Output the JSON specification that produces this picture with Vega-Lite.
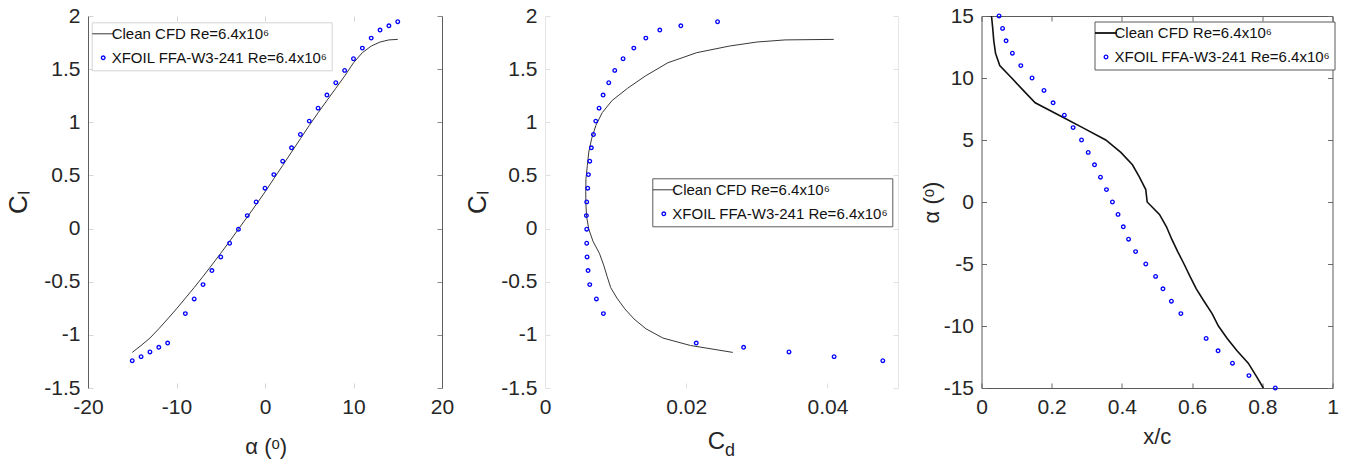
{
  "$schema": "https://vega.github.io/schema/vega-lite/v6.json",
  "background": "white",
  "padding": {"left": 5, "top": 5, "right": 0, "bottom": 0},
  "datasets": {
    "cfd": [
      {"alpha": -15, "cl": -1.165, "cd": 0.0266, "xc": 0.803},
      {"alpha": -14, "cl": -1.100, "cd": 0.0206, "xc": 0.782},
      {"alpha": -13, "cl": -1.030, "cd": 0.0167, "xc": 0.760},
      {"alpha": -12, "cl": -0.943, "cd": 0.0143, "xc": 0.728},
      {"alpha": -11, "cl": -0.850, "cd": 0.0126, "xc": 0.700},
      {"alpha": -10, "cl": -0.755, "cd": 0.0113, "xc": 0.675},
      {"alpha": -9, "cl": -0.655, "cd": 0.0102, "xc": 0.657},
      {"alpha": -8, "cl": -0.555, "cd": 0.0093, "xc": 0.634},
      {"alpha": -7, "cl": -0.450, "cd": 0.0088, "xc": 0.612},
      {"alpha": -6, "cl": -0.342, "cd": 0.0083, "xc": 0.594},
      {"alpha": -5, "cl": -0.232, "cd": 0.0077, "xc": 0.577},
      {"alpha": -4, "cl": -0.120, "cd": 0.0068, "xc": 0.559},
      {"alpha": -3, "cl": -0.005, "cd": 0.0062, "xc": 0.542},
      {"alpha": -2, "cl": 0.110, "cd": 0.0059, "xc": 0.527},
      {"alpha": -1, "cl": 0.225, "cd": 0.0058, "xc": 0.507},
      {"alpha": 0, "cl": 0.345, "cd": 0.00577, "xc": 0.472},
      {"alpha": 1, "cl": 0.470, "cd": 0.0058, "xc": 0.468},
      {"alpha": 2, "cl": 0.594, "cd": 0.0060, "xc": 0.450},
      {"alpha": 3, "cl": 0.720, "cd": 0.0062, "xc": 0.430},
      {"alpha": 4, "cl": 0.845, "cd": 0.0066, "xc": 0.397},
      {"alpha": 5, "cl": 0.970, "cd": 0.0072, "xc": 0.354},
      {"alpha": 6, "cl": 1.090, "cd": 0.0081, "xc": 0.288},
      {"alpha": 7, "cl": 1.205, "cd": 0.0095, "xc": 0.221},
      {"alpha": 8, "cl": 1.320, "cd": 0.0117, "xc": 0.153},
      {"alpha": 9, "cl": 1.435, "cd": 0.0142, "xc": 0.119},
      {"alpha": 10, "cl": 1.560, "cd": 0.0174, "xc": 0.086},
      {"alpha": 11, "cl": 1.655, "cd": 0.0215, "xc": 0.052},
      {"alpha": 12, "cl": 1.717, "cd": 0.0261, "xc": 0.040},
      {"alpha": 13, "cl": 1.755, "cd": 0.0300, "xc": 0.035},
      {"alpha": 14, "cl": 1.775, "cd": 0.0340, "xc": 0.032},
      {"alpha": 15, "cl": 1.780, "cd": 0.0409, "xc": 0.0285}
    ],
    "xfoil": [
      {"alpha": -15, "cl": -1.243, "cd": 0.04785, "xc": 0.837},
      {"alpha": -14, "cl": -1.205, "cd": 0.04095, "xc": 0.762},
      {"alpha": -13, "cl": -1.161, "cd": 0.03456, "xc": 0.715},
      {"alpha": -12, "cl": -1.117, "cd": 0.02813, "xc": 0.674},
      {"alpha": -11, "cl": -1.077, "cd": 0.02142, "xc": 0.640},
      {"alpha": -9, "cl": -0.800, "cd": 0.00827, "xc": 0.568},
      {"alpha": -8, "cl": -0.662, "cd": 0.00728, "xc": 0.541},
      {"alpha": -7, "cl": -0.527, "cd": 0.00634, "xc": 0.517},
      {"alpha": -6, "cl": -0.395, "cd": 0.00610, "xc": 0.496},
      {"alpha": -5, "cl": -0.267, "cd": 0.00596, "xc": 0.468},
      {"alpha": -4, "cl": -0.138, "cd": 0.00591, "xc": 0.439},
      {"alpha": -3, "cl": -0.006, "cd": 0.00591, "xc": 0.419},
      {"alpha": -2, "cl": 0.122, "cd": 0.00586, "xc": 0.404},
      {"alpha": -1, "cl": 0.251, "cd": 0.00591, "xc": 0.389},
      {"alpha": 0, "cl": 0.380, "cd": 0.00605, "xc": 0.373},
      {"alpha": 1, "cl": 0.508, "cd": 0.00615, "xc": 0.356},
      {"alpha": 2, "cl": 0.634, "cd": 0.00634, "xc": 0.339},
      {"alpha": 3, "cl": 0.760, "cd": 0.00657, "xc": 0.322},
      {"alpha": 4, "cl": 0.885, "cd": 0.00686, "xc": 0.304},
      {"alpha": 5, "cl": 1.011, "cd": 0.00719, "xc": 0.285},
      {"alpha": 6, "cl": 1.133, "cd": 0.00766, "xc": 0.261},
      {"alpha": 7, "cl": 1.256, "cd": 0.00823, "xc": 0.236},
      {"alpha": 8, "cl": 1.372, "cd": 0.00903, "xc": 0.204},
      {"alpha": 9, "cl": 1.488, "cd": 0.00988, "xc": 0.178},
      {"alpha": 10, "cl": 1.598, "cd": 0.01106, "xc": 0.144},
      {"alpha": 11, "cl": 1.698, "cd": 0.01258, "xc": 0.112},
      {"alpha": 12, "cl": 1.792, "cd": 0.01428, "xc": 0.088},
      {"alpha": 13, "cl": 1.868, "cd": 0.01626, "xc": 0.070},
      {"alpha": 14, "cl": 1.908, "cd": 0.01924, "xc": 0.060},
      {"alpha": 15, "cl": 1.946, "cd": 0.02444, "xc": 0.050}
    ]
  },
  "spacing": 10,
  "hconcat": [
    {
      "width": 354,
      "height": 372,
      "layer": [
        {
          "data": {"name": "cfd"},
          "mark": {"type": "line", "strokeWidth": 1},
          "encoding": {
            "x": {"field": "alpha", "type": "quantitative", "scale": {"domain": [-20, 20], "nice": false, "zero": false},
              "axis": {"orient": "bottom", "values": [-20, -10, 0, 10, 20], "domain": false, "tickColor": "#d6d6d6",
                "title": "α (ᵒ)", "titleFontSize": 22, "titleX": 177.7, "titleY": 65.7, "titleBaseline": "alphabetic", "titleAlign": "center"}},
            "y": {"field": "cl", "type": "quantitative", "scale": {"domain": [-1.5, 2], "nice": false, "zero": false},
              "axis": {"orient": "left", "values": [-1.5, -1, -0.5, 0, 0.5, 1, 1.5, 2], "domainColor": "#5e5e5e", "tickColor": "#d6d6d6",
                "title": "Cₗ", "titleFontSize": 26, "titleX": -62, "titleY": 186, "titleBaseline": "alphabetic", "titleAlign": "center"}},
            "order": {"field": "alpha", "type": "quantitative"},
            "color": {"datum": "Clean CFD Re=6.4x10⁶", "type": "nominal",
              "scale": {"domain": ["Clean CFD Re=6.4x10⁶", "XFOIL FFA-W3-241 Re=6.4x10⁶"], "range": ["#383838", "#0000ff"]},
              "legend": {"orient": "none", "legendX": 3.7, "legendY": 6.3, "strokeColor": "#d4d4d4",
                "encode": {"symbols": {"update": {
                  "shape": {"signal": "datum.index === 1 ? 'circle' : 'stroke'"},
                  "size": {"signal": "datum.index === 1 ? 13 : 484"},
                  "strokeWidth": {"signal": "datum.index === 1 ? 1.3 : 1"},
                  "stroke": {"signal": "datum.index === 1 ? '#0000ff' : '#383838'"},
                  "fill": {"value": "transparent"}}}}}}
          }
        },
        {
          "data": {"name": "xfoil"},
          "mark": {"type": "point", "filled": false, "size": 13, "strokeWidth": 1.3, "opacity": 1},
          "encoding": {
            "x": {"field": "alpha", "type": "quantitative",
              "axis": {"orient": "top", "labels": false, "domain": false, "tickColor": "#d6d6d6", "title": null, "values": [-20, -10, 0, 10, 20]}},
            "y": {"field": "cl", "type": "quantitative",
              "axis": {"orient": "right", "labels": false, "domainColor": "#5e5e5e", "tickColor": "#8a8a8a", "title": null, "values": [-1.5, -1, -0.5, 0, 0.5, 1, 1.5, 2]}},
            "color": {"datum": "XFOIL FFA-W3-241 Re=6.4x10⁶", "type": "nominal"}
          }
        }
      ],
      "resolve": {"axis": {"x": "independent", "y": "independent"}}
    },
    {
      "spacing": 21.5,
      "hconcat": [
        {
          "width": 353,
          "height": 372,
          "layer": [
            {
              "data": {"name": "cfd"},
              "mark": {"type": "line", "strokeWidth": 1},
              "encoding": {
                "x": {"field": "cd", "type": "quantitative", "scale": {"domain": [0, 0.05], "nice": false},
                  "axis": {"orient": "bottom", "values": [0, 0.02, 0.04], "domain": false, "tickColor": "#e0e0e0",
                    "title": "C", "titleFontSize": 24, "titleX": 170.8, "titleY": 60, "titleBaseline": "alphabetic", "titleAlign": "center"}},
                "y": {"field": "cl", "type": "quantitative", "scale": {"domain": [-1.5, 2], "nice": false, "zero": false},
                  "axis": {"orient": "left", "values": [-1.5, -1, -0.5, 0, 0.5, 1, 1.5, 2], "domainColor": "#e6e6e6", "tickColor": "#e0e0e0",
                    "title": "Cₗ", "titleFontSize": 26, "titleX": -60, "titleY": 186, "titleBaseline": "alphabetic", "titleAlign": "center"}},
                "order": {"field": "alpha", "type": "quantitative"},
                "color": {"datum": "Clean CFD Re=6.4x10⁶", "type": "nominal",
                  "scale": {"domain": ["Clean CFD Re=6.4x10⁶", "XFOIL FFA-W3-241 Re=6.4x10⁶"], "range": ["#383838", "#0000ff"]},
                  "legend": {"orient": "none", "legendX": 107.3, "legendY": 162.3, "strokeColor": "#5a5a5a",
                    "encode": {"symbols": {"update": {
                      "shape": {"signal": "datum.index === 1 ? 'circle' : 'stroke'"},
                      "size": {"signal": "datum.index === 1 ? 13 : 484"},
                      "strokeWidth": {"signal": "datum.index === 1 ? 1.3 : 1"},
                      "stroke": {"signal": "datum.index === 1 ? '#0000ff' : '#383838'"},
                      "fill": {"value": "transparent"}}}}}}
              }
            },
            {
              "data": {"name": "xfoil"},
              "mark": {"type": "point", "filled": false, "size": 13, "strokeWidth": 1.3, "opacity": 1},
              "encoding": {
                "x": {"field": "cd", "type": "quantitative",
                  "axis": {"orient": "bottom", "labels": false, "ticks": false, "domain": false,
                    "title": "d", "titleFontSize": 18, "titleX": 184.5, "titleY": 67, "titleBaseline": "alphabetic", "titleAlign": "center"}},
                "y": {"field": "cl", "type": "quantitative",
                  "axis": {"orient": "right", "labels": false, "domainColor": "#e6e6e6", "tickColor": "#e0e0e0", "title": null, "values": [-1.5, -1, -0.5, 0, 0.5, 1, 1.5, 2]}},
                "color": {"datum": "XFOIL FFA-W3-241 Re=6.4x10⁶", "type": "nominal"}
              }
            }
          ],
          "resolve": {"axis": {"x": "independent", "y": "independent"}}
        },
        {
          "width": 351,
          "height": 372,
          "layer": [
            {
              "data": {"name": "cfd"},
              "mark": {"type": "line", "strokeWidth": 1.6},
              "encoding": {
                "x": {"field": "xc", "type": "quantitative", "scale": {"domain": [0, 1], "nice": false},
                  "axis": {"orient": "bottom", "values": [0, 0.2, 0.4, 0.6, 0.8, 1], "domainColor": "#5a5a5a", "tickColor": "#6a6a6a",
                    "title": "x/c", "titleFontSize": 22, "titleX": 175.3, "titleY": 55, "titleBaseline": "alphabetic", "titleAlign": "center"}},
                "y": {"field": "alpha", "type": "quantitative", "scale": {"domain": [-15, 15], "nice": false, "zero": false},
                  "axis": {"orient": "left", "values": [-15, -10, -5, 0, 5, 10, 15], "domainColor": "#5a5a5a", "tickColor": "#6a6a6a",
                    "title": "α (ᵒ)", "titleFontSize": 22, "titleX": -43, "titleY": 186, "titleBaseline": "alphabetic", "titleAlign": "center"}},
                "order": {"field": "alpha", "type": "quantitative"},
                "color": {"datum": "Clean CFD Re=6.4x10⁶", "type": "nominal",
                  "scale": {"domain": ["Clean CFD Re=6.4x10⁶", "XFOIL FFA-W3-241 Re=6.4x10⁶"], "range": ["#111111", "#0000ff"]},
                  "legend": {"orient": "none", "legendX": 113, "legendY": 5.5, "strokeColor": "#5a5a5a",
                    "encode": {"symbols": {"update": {
                      "shape": {"signal": "datum.index === 1 ? 'circle' : 'stroke'"},
                      "size": {"signal": "datum.index === 1 ? 13 : 484"},
                      "strokeWidth": {"signal": "datum.index === 1 ? 1.3 : 1.8"},
                      "stroke": {"signal": "datum.index === 1 ? '#0000ff' : '#111111'"},
                      "fill": {"value": "transparent"}}}}}}
              }
            },
            {
              "data": {"name": "xfoil"},
              "mark": {"type": "point", "filled": false, "size": 13, "strokeWidth": 1.3, "opacity": 1},
              "encoding": {
                "x": {"field": "xc", "type": "quantitative",
                  "axis": {"orient": "top", "labels": false, "domainColor": "#5a5a5a", "tickColor": "#6a6a6a", "title": null, "values": [0, 0.2, 0.4, 0.6, 0.8, 1]}},
                "y": {"field": "alpha", "type": "quantitative",
                  "axis": {"orient": "right", "labels": false, "domainColor": "#5a5a5a", "tickColor": "#6a6a6a", "title": null, "values": [-15, -10, -5, 0, 5, 10, 15]}},
                "color": {"datum": "XFOIL FFA-W3-241 Re=6.4x10⁶", "type": "nominal"}
              }
            }
          ],
          "resolve": {"axis": {"x": "independent", "y": "independent"}}
        }
      ],
      "resolve": {"scale": {"color": "independent"}, "legend": {"color": "independent"}}
    }
  ],
  "resolve": {"scale": {"color": "independent"}, "legend": {"color": "independent"}},
  "config": {
    "view": {"stroke": null},
    "axis": {
      "grid": false,
      "labelFont": "Liberation Sans",
      "labelFontSize": 21,
      "labelColor": "#262626",
      "labelFlush": false,
      "labelExpr": "replace(format(datum.value, '~g'), '−', '-')",
      "labelPadding": 13,
      "tickSize": -5,
      "tickWidth": 1,
      "domainWidth": 1,
      "titleFont": "Liberation Sans",
      "titleFontWeight": "normal",
      "titleColor": "#262626"
    },
    "legend": {
      "title": null,
      "fillColor": "white",
      "padding": 4,
      "rowPadding": 8,
      "labelFont": "Liberation Sans",
      "labelFontSize": 15,
      "labelColor": "#111111",
      "labelOffset": 1,
      "symbolSize": 484,
      "labelLimit": 400
    }
  }
}
